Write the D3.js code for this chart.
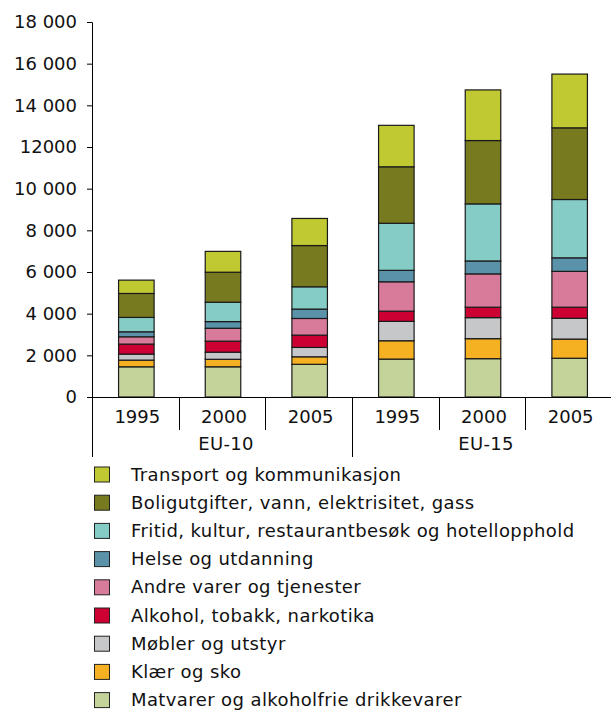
<!DOCTYPE html>
<html>
<head>
<meta charset="utf-8">
<script src="https://cdn.jsdelivr.net/npm/d3@7"></script>
<style>
  html, body { margin: 0; padding: 0; background: #fff; }
  svg { display: block; font-family: "DejaVu Sans", Verdana, sans-serif; }
</style>
</head>
<body>
<svg id="chart" width="611" height="711"></svg>
<script>
// Household consumption per capita by category, EU-10 vs EU-15
const groups = ["EU-10", "EU-15"];
const years = ["1995", "2000", "2005"];

// Stack order, bottom to top
const series = [
  "Matvarer og alkoholfrie drikkevarer",
  "Klær og sko",
  "Møbler og utstyr",
  "Alkohol, tobakk, narkotika",
  "Andre varer og tjenester",
  "Helse og utdanning",
  "Fritid, kultur, restaurantbesøk og hotellopphold",
  "Boligutgifter, vann, elektrisitet, gass",
  "Transport og kommunikasjon"
];
const colors = ["#c3d39a", "#f5b122", "#c6c7c9", "#cc0033", "#d87b9b",
                "#5a93a9", "#86ccc6", "#777a1f", "#c0c932"];

// One array per bar, values in the series order above
const eu10_1995 = [1450, 320, 290, 480, 350, 240, 690, 1150, 640];
const eu10_2000 = [1450, 360, 340, 530, 620, 320, 930, 1440, 1000];
const eu10_2005 = [1570, 360, 450, 590, 800, 450, 1070, 1980, 1300];
const eu15_1995 = [1820, 880, 930, 490, 1410, 550, 2260, 2710, 1990];
const eu15_2000 = [1840, 960, 1010, 500, 1600, 620, 2740, 3040, 2430];
const eu15_2005 = [1860, 920, 1000, 530, 1720, 650, 2800, 3440, 2580];

const yTickValues = [0, 2000, 4000, 6000, 8000, 10000, 12000, 14000, 16000, 18000];
const yTickLabels = ["0", "2 000", "4 000", "6 000", "8 000", "10 000", "12000", "14 000", "16 000", "18 000"];

const bars = [
  { group: "EU-10", year: "1995", values: eu10_1995 },
  { group: "EU-10", year: "2000", values: eu10_2000 },
  { group: "EU-10", year: "2005", values: eu10_2005 },
  { group: "EU-15", year: "1995", values: eu15_1995 },
  { group: "EU-15", year: "2000", values: eu15_2000 },
  { group: "EU-15", year: "2005", values: eu15_2005 }
].map((d, i) => ({ ...d, key: d.group + "-" + d.year, i }));

const table = bars.map(b => {
  const row = { key: b.key };
  series.forEach((s, j) => row[s] = b.values[j]);
  return row;
});

const svg = d3.select("#chart");
const plotLeft = 92, plotRight = 612, plotTop = 22, plotBottom = 397;

const x = d3.scaleBand().domain(bars.map(b => b.key)).range([plotLeft, plotRight]).paddingInner(0).paddingOuter(0);
const y = d3.scaleLinear().domain([0, 18000]).range([plotBottom, plotTop]);

const stacked = d3.stack().keys(series)(table);

const barW = x.bandwidth() * 0.41;

// Stacked bars
const layer = svg.append("g").selectAll("g")
  .data(stacked)
  .join("g")
  .attr("fill", (d, i) => colors[i]);

layer.selectAll("rect")
  .data(d => d)
  .join("rect")
  .attr("x", d => x(d.data.key) + (x.bandwidth() - barW) / 2 + 1)
  .attr("width", barW)
  .attr("y", d => y(d[1]))
  .attr("height", d => y(d[0]) - y(d[1]))
  .attr("stroke", "#1a1a1a")
  .attr("stroke-width", 1.2);

// Y axis
const yAxis = d3.axisLeft(y)
  .tickValues(yTickValues)
  .tickFormat((d, i) => yTickLabels[i])
  .tickSizeInner(5)
  .tickSizeOuter(5)
  .tickPadding(10);

const yg = svg.append("g")
  .attr("transform", `translate(${plotLeft},0)`)
  .call(yAxis);
yg.selectAll("path, line").attr("stroke", "#000").attr("stroke-width", 1);
yg.selectAll("text")
  .attr("font-size", 18)
  .attr("font-family", "DejaVu Sans, Verdana, sans-serif")
  .attr("fill", "#111");

// Category axis: baseline, separators and two-level labels
const cat = svg.append("g");
cat.append("line")
  .attr("x1", plotLeft).attr("x2", plotRight)
  .attr("y1", plotBottom + 0.5).attr("y2", plotBottom + 0.5)
  .attr("stroke", "#000");

bars.forEach((b, i) => {
  const xs = Math.round(x(b.key)) + 0.5;
  const groupStart = i === 0 || bars[i - 1].group !== b.group;
  cat.append("line")
    .attr("x1", xs).attr("x2", xs)
    .attr("y1", plotBottom).attr("y2", groupStart ? 457 : 430)
    .attr("stroke", "#000");
});
cat.append("line")
  .attr("x1", plotRight - 0.5).attr("x2", plotRight - 0.5)
  .attr("y1", plotBottom).attr("y2", 457)
  .attr("stroke", "#000");

cat.selectAll("text.year")
  .data(bars)
  .join("text")
  .attr("class", "year")
  .attr("x", d => x(d.key) + x.bandwidth() / 2 + 2)
  .attr("y", 423)
  .attr("text-anchor", "middle")
  .attr("font-size", 18)
  .attr("fill", "#111")
  .text(d => d.year);

cat.selectAll("text.group")
  .data(groups)
  .join("text")
  .attr("class", "group")
  .attr("x", g => {
    const ks = bars.filter(b => b.group === g);
    return (x(ks[0].key) + x(ks[ks.length - 1].key) + x.bandwidth()) / 2 + 4;
  })
  .attr("y", 450)
  .attr("text-anchor", "middle")
  .attr("font-size", 18)
  .attr("letter-spacing", 0.3)
  .attr("fill", "#111")
  .text(g => g);

// Legend, top entry is the top of the stack
const legendItems = series.map((s, i) => ({ name: s, color: colors[i] })).reverse();
const legend = svg.append("g");
const rowH = 28.2;
const item = legend.selectAll("g")
  .data(legendItems)
  .join("g")
  .attr("transform", (d, i) => `translate(0,${474.5 + i * rowH})`);

item.append("rect")
  .attr("x", 94.5).attr("y", -7.5)
  .attr("width", 15).attr("height", 15)
  .attr("fill", d => d.color)
  .attr("stroke", "#222")
  .attr("stroke-width", 1);

item.append("text")
  .attr("x", 131)
  .attr("y", 6)
  .attr("font-size", 18)
  .attr("letter-spacing", 0.4)
  .attr("fill", "#111")
  .text(d => d.name);
</script>
</body>
</html>
